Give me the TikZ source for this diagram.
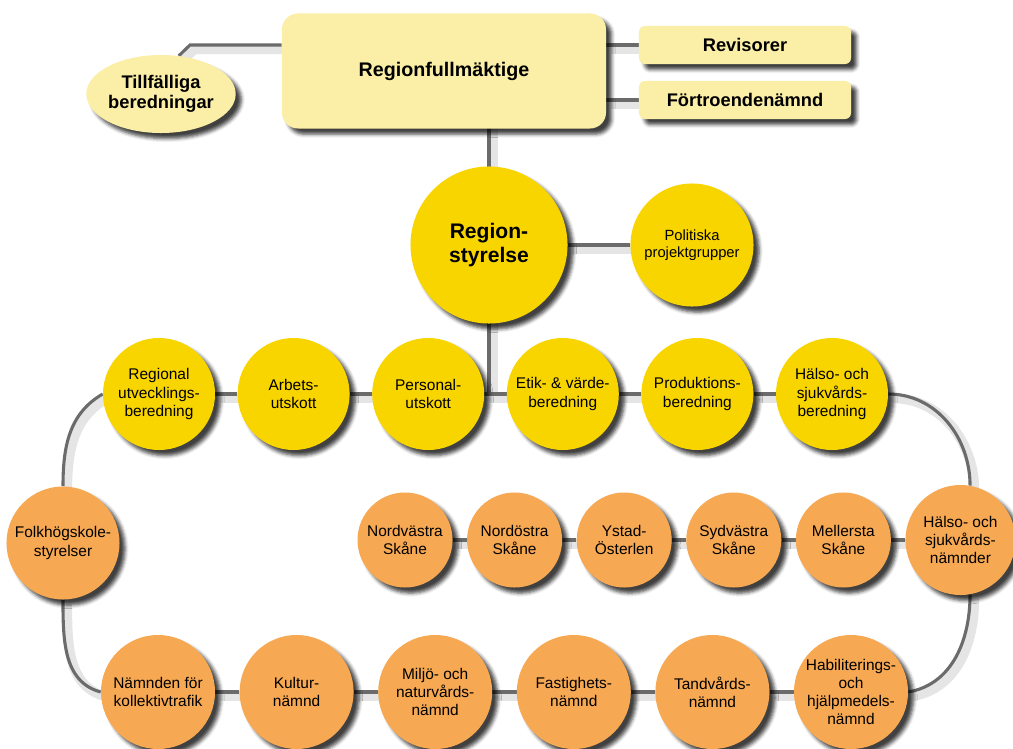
\documentclass[tikz,border=0pt]{standalone}
\usepackage{fontspec}
\setsansfont{Liberation Sans}
\usetikzlibrary{positioning,shapes.geometric,shadows.blur,backgrounds}

\definecolor{paleyellow}{HTML}{FBEEA6}
\definecolor{sunyellow}{HTML}{F9D500}
\definecolor{orangefill}{HTML}{F6A852}

\begin{document}
\begin{tikzpicture}[x=0.025cm, y=-0.025cm,
		dropshade/.style={blur shadow={shadow xshift=4pt, shadow yshift=-4pt, shadow opacity=75, shadow blur radius=2.5pt}},
		council/.style={dropshade, fill=paleyellow, rounded corners=0.4cm, minimum width=8.1cm, minimum height=2.875cm, font=\sffamily\bfseries\fontsize{14}{16}\selectfont},
		board/.style={dropshade, fill=paleyellow, rounded corners=0.15cm, minimum width=5.3cm, minimum height=0.95cm, font=\sffamily\bfseries\fontsize{13}{15}\selectfont},
		temp/.style={dropshade, fill=paleyellow, ellipse, inner sep=0pt, minimum width=3.55cm, minimum height=1.95cm, align=center, font=\sffamily\bfseries\fontsize{13}{14}\selectfont},
		disc/.style={dropshade, circle, inner sep=0pt, minimum size=2.8cm, align=center, font=\sffamily\fontsize{11}{13}\selectfont},
		ydisc/.style={disc, fill=sunyellow},
		odisc/.style={disc, fill=orangefill, minimum size=2.85cm},
		small/.style={odisc, minimum size=2.375cm},
		wire/.style={draw=black!58, line width=2.2pt, preaction={draw=black!10, line width=7pt, transform canvas={shift={(3pt,-3pt)}}}},
	]
		\useasboundingbox (0,0) rectangle (1013,749);

		\node (rf) [council] at (444,71) {Regionfullmäktige};
		\node (rev) [board] at (745,45) {Revisorer};
		\node (fn) [board] at (745,100) {Förtroendenämnd};
		\node (tf) [temp] at (161,94) {Tillfälliga\\beredningar};

		\node (rs) [ydisc, minimum size=3.925cm, font=\sffamily\bfseries\fontsize{15}{17}\selectfont] at (489,245) {Region-\\styrelse};
		\node (pp) [ydisc, minimum size=3.075cm, font=\sffamily\fontsize{10.5}{12.5}\selectfont] at (692,245) {Politiska\\projektgrupper};

		\node (reg) [ydisc] at (159,394) {Regional\\utvecklings-\\beredning};
		\node (arb) [ydisc, right=0.55cm of reg] {Arbets-\\utskott};
		\node (per) [ydisc, right=0.55cm of arb] {Personal-\\utskott};
		\node (etik) [ydisc, right=0.55cm of per] {Etik- \& värde-\\beredning};
		\node (prod) [ydisc, right=0.55cm of etik] {Produktions-\\beredning};
		\node (hsb) [ydisc, right=0.55cm of prod] {Hälso- och\\sjukvårds-\\beredning};

		\node (folk) [odisc, minimum size=2.825cm] at (63,543) {Folkhögskole-\\styrelser};
		\node (nv) [small] at (405,540) {Nordvästra\\Skåne};
		\node (no) [small, right=0.35cm of nv] {Nordöstra\\Skåne};
		\node (ys) [small, right=0.35cm of no] {Ystad-\\Österlen};
		\node (sv) [small, right=0.35cm of ys] {Sydvästra\\Skåne};
		\node (ms) [small, right=0.35cm of sv] {Mellersta\\Skåne};
		\node (hsn) [odisc, minimum size=2.75cm, right=0.35cm of ms] {Hälso- och\\sjukvårds-\\nämnder};

		\node (kol) [odisc] at (158,692) {Nämnden för\\kollektivtrafik};
		\node (kul) [odisc, right=0.6cm of kol] {Kultur-\\nämnd};
		\node (mil) [odisc, right=0.6cm of kul] {Miljö- och\\naturvårds-\\nämnd};
		\node (fas) [odisc, right=0.6cm of mil] {Fastighets-\\nämnd};
		\node (tand) [odisc, right=0.6cm of fas] {Tandvårds-\\nämnd};
		\node (hab) [odisc, right=0.6cm of tand] {Habiliterings-\\och\\hjälpmedels-\\nämnd};

		\begin{pgfonlayer}{background}
			\draw[wire] (rf.west |- 0,45) -- (190,45) -- (tf.65);
			\draw[wire] (rf.east |- rev) -- (rev);
			\draw[wire] (rf.east |- fn) -- (fn);
			\draw[wire] (rs |- rf) -- (rs |- reg);
			\draw[wire] (rs) -- (pp);
			\draw[wire] (reg) -- (arb) -- (per) -- (etik) -- (prod) -- (hsb);
			\draw[wire] (nv) -- (no) -- (ys) -- (sv) -- (ms) -- (hsn);
			\draw[wire] (kol) -- (kul) -- (mil) -- (fas) -- (tand) -- (hab);
			\draw[wire] (reg.west) to[out=210, in=90] (folk.north);
			\draw[wire] (folk.south) to[out=-90, in=165] (kol.west);
			\draw[wire] (hsb.east) to[out=0, in=90] (hsn.80);
			\draw[wire] (hsn.-80) to[out=-90, in=10] (hab.east);
		\end{pgfonlayer}
	\end{tikzpicture}
\end{document}
